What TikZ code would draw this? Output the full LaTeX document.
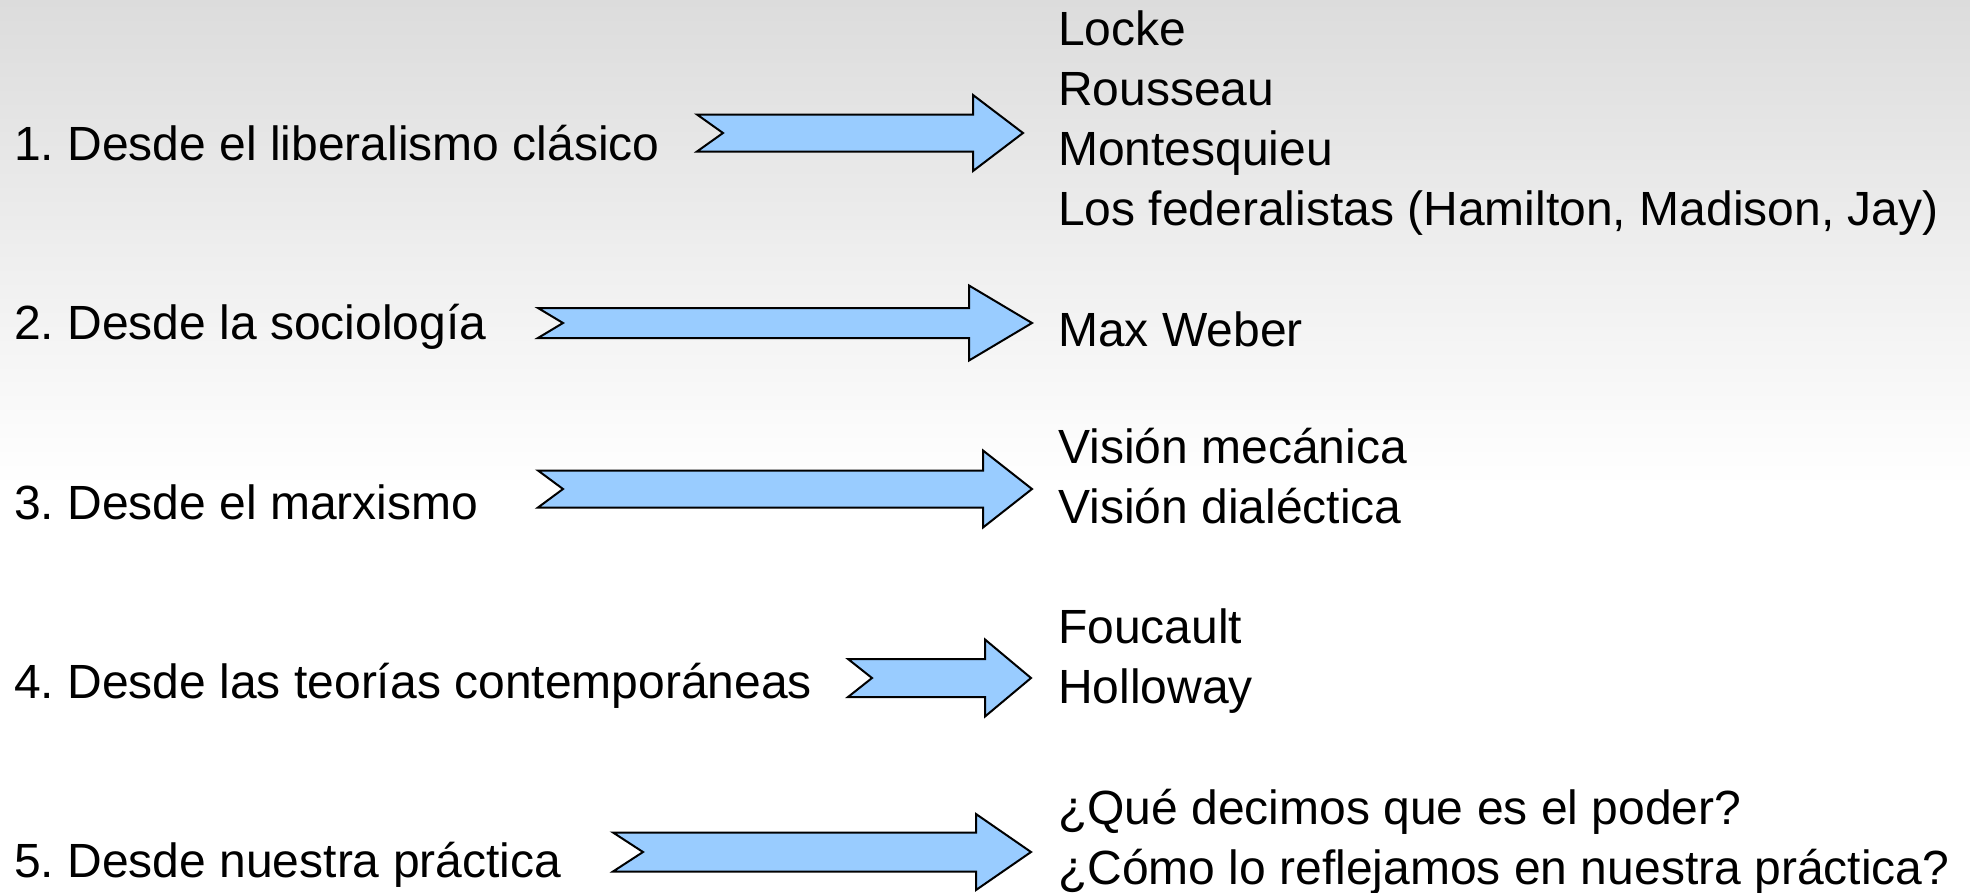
\documentclass[tikz,border=0pt]{standalone}
\usepackage{fontspec}
\setmainfont{Liberation Sans}
\usepackage{tikz}
\definecolor{arrowblue}{HTML}{99CCFF}
\definecolor{topgray}{HTML}{DCDCDC}
\tikzset{
BLOCK/.style={draw=black,fill=arrowblue,line join=miter,miter limit=10,line width=2pt},
LABEL/.style={anchor=base west,inner sep=0pt,font=\fontsize{48}{60}\selectfont},
}

\begin{document}
\begin{tikzpicture}[x=1pt,y=-1pt]
	\useasboundingbox (0,0) rectangle (1970,892);
	%Background
	\shade[top color=topgray,bottom color=white] (0,0) rectangle (1970,486);
	\fill[white] (0,485) rectangle (1970,892);
	%Left column
	\node[LABEL] (l1) at (14,160) {1.\ Desde el liberalismo clásico};
	\node[LABEL] (l2) at (14,339) {2.\ Desde la sociología};
	\node[LABEL] (l3) at (14,519) {3.\ Desde el marxismo};
	\node[LABEL] (l4) at (14,698) {4.\ Desde las teorías contemporáneas};
	\node[LABEL] (l5) at (14,877) {5.\ Desde nuestra práctica};
	%Right column
	\node[LABEL] (r1a) at (1058,45) {Locke};
	\node[LABEL] (r1b) at (1058,105) {Rousseau};
	\node[LABEL] (r1c) at (1058,165) {Montesquieu};
	\node[LABEL] (r1d) at (1058,225) {Los federalistas (Hamilton, Madison, Jay)};
	\node[LABEL] (r2a) at (1058,346) {Max Weber};
	\node[LABEL] (r3a) at (1058,463) {Visión mecánica};
	\node[LABEL] (r3b) at (1058,523) {Visión dialéctica};
	\node[LABEL] (r4a) at (1058,643) {Foucault};
	\node[LABEL] (r4b) at (1058,703) {Holloway};
	\node[LABEL] (r5a) at (1058,824) {¿Qué decimos que es el poder?};
	\node[LABEL] (r5b) at (1058,884) {¿Cómo lo reflejamos en nuestra práctica?};
	%Block arrows: notch x / tail depth / tip x / centre y / shaft / head / head length
	\foreach \n/\nx/\dep/\tx/\cy/\sh/\hd/\hl in {1/723/26/1023/133/18.5/38/50,
		2/563/25/1032/323/15/37.5/63,3/563/25/1032/489/18.5/38.5/49,
		4/872/24/1031/678/19/38.5/46,5/643/30/1031/852/19.5/38/55}{
		\coordinate (n\n) at (\nx,\cy);
		\coordinate (t\n) at (\tx,\cy);
		\path[BLOCK] (n\n) -- ([shift={(-\dep,-\sh)}]n\n) -- ([shift={(-\hl,-\sh)}]t\n)
			-- ([shift={(-\hl,-\hd)}]t\n) -- (t\n) -- ([shift={(-\hl,\hd)}]t\n)
			-- ([shift={(-\hl,\sh)}]t\n) -- ([shift={(-\dep,\sh)}]n\n) -- cycle;
	}
\end{tikzpicture}
\end{document}
